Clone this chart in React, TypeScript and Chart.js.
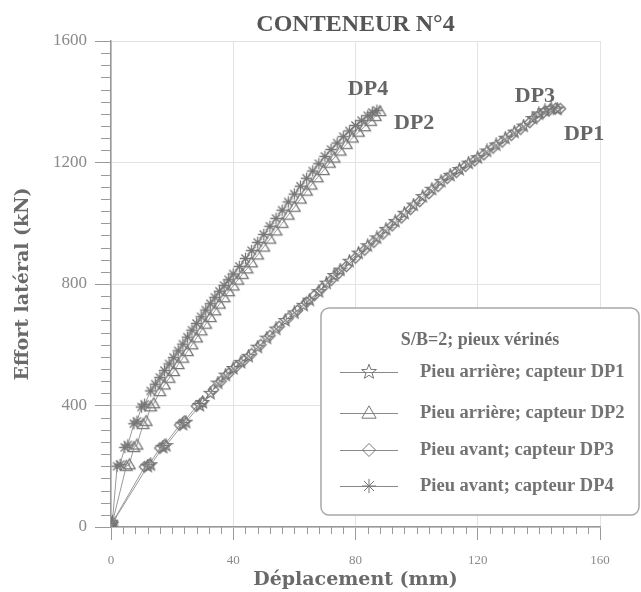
import React, { useEffect, useRef } from "react";
import { Chart, registerables } from "chart.js";

Chart.register(...registerables);

// ---------- data ----------
const chartTitle = "CONTENEUR N°4";
const xTitle = "Déplacement (mm)";
const yTitle = "Effort latéral (kN)";
const legendTitle = "S/B=2; pieux vérinés";
const seriesNames = [
  "Pieu arrière; capteur DP1",
  "Pieu arrière; capteur DP2",
  "Pieu avant; capteur DP3",
  "Pieu avant; capteur DP4",
];
const seriesMarkers = ["star5", "triangle", "diamond", "asterisk"];

const dp1X = [0, 0.3, 12, 13, 17, 18, 23.5, 24.5, 29, 30, 32.5, 35, 37.5, 40, 42.5, 45, 48, 51, 54, 57, 60, 63, 65, 68, 70.5, 73, 75, 78, 81, 84, 87, 90, 93, 96, 99, 102, 105, 108, 111, 114, 117, 120, 123, 126, 129, 132, 135, 138, 140, 142, 144, 146];
const dp1Y = [0, 10, 200, 205, 262, 268, 338, 345, 400, 410, 440, 474, 500, 522, 542, 562, 592, 622, 652, 680, 705, 730, 747, 775, 803, 828, 846, 875, 902, 926, 952, 980, 1006, 1033, 1060, 1088, 1112, 1138, 1158, 1177, 1198, 1216, 1238, 1258, 1280, 1300, 1320, 1345, 1360, 1370, 1377, 1376];

const dp2X = [0, 0.3, 5, 6, 7.5, 8.5, 10.5, 11.5, 13, 14, 16, 17.5, 19, 20.5, 22, 23.5, 25, 26.5, 28, 29.5, 31, 32.5, 34, 35.5, 37, 38.5, 40, 41.5, 43, 44.5, 46, 48, 50, 52, 54, 56, 58, 60, 62, 64, 65.5, 67.5, 69.5, 71.5, 73, 75, 77, 79, 81, 83, 85, 86.5, 88];
const dp2Y = [0, 8, 200, 205, 262, 270, 338, 348, 396, 406, 446, 468, 490, 512, 535, 556, 578, 600, 623, 646, 668, 690, 712, 734, 755, 775, 794, 813, 832, 850, 870, 896, 922, 948, 975, 1000, 1027, 1053, 1080, 1106, 1126, 1150, 1174, 1198, 1215, 1238, 1260, 1281, 1300, 1318, 1336, 1352, 1368];

const dp3X = [0, 0.5, 11, 12.5, 16, 17.5, 22.5, 24, 28, 30, 33.5, 36, 38.5, 41, 43.5, 46, 49, 52, 55, 58, 61, 64, 66.5, 69, 72, 74.5, 77, 80, 83, 86, 89, 92, 95, 98, 101, 104, 107, 110, 113, 116, 119, 122, 125, 128, 131, 134, 137, 139.5, 141.5, 143.5, 145.5, 147];
const dp3Y = [0, 15, 198, 206, 260, 270, 336, 348, 398, 412, 452, 480, 505, 528, 548, 570, 600, 630, 660, 688, 713, 740, 762, 785, 812, 835, 858, 886, 912, 938, 965, 992, 1018, 1046, 1072, 1098, 1122, 1148, 1168, 1188, 1206, 1226, 1248, 1268, 1290, 1310, 1332, 1350, 1364, 1373, 1378, 1377];

const dp4X = [0, 0, 0.5, 2, 3, 4.5, 5.5, 7.5, 8.5, 10, 11, 13, 14.5, 16, 17.5, 19, 20.5, 22, 23.5, 25, 26.5, 28, 29.5, 31, 32.5, 34, 35.5, 37, 38.5, 40, 42, 44, 46, 48, 50, 52, 54, 56, 58, 60, 62, 64, 66, 68, 70, 72, 74, 76, 78, 80, 82, 84, 85.5, 87];
const dp4Y = [0, 10, 22, 200, 206, 262, 270, 340, 348, 395, 404, 448, 470, 492, 515, 537, 558, 580, 602, 625, 648, 670, 692, 714, 735, 756, 776, 795, 814, 833, 858, 884, 910, 937, 963, 990, 1016, 1043, 1070, 1096, 1122, 1148, 1172, 1196, 1220, 1243, 1264, 1285, 1304, 1322, 1338, 1354, 1365, 1372];

// curve end labels (text, x mm, y kN)
const curveLabelText = ["DP1", "DP2", "DP3", "DP4"];
const curveLabelX = [154.8, 99.2, 138.7, 84.1];
const curveLabelY = [1294, 1330, 1419, 1442];

const xMin = 0, xMax = 160, xMajor = 40, xMinor = 4;
const yMin = 0, yMax = 1600, yMajor = 400, yMinor = 40;

// ---------- styling ----------
const MARK = "#767676";
const LINE = "#999999";
const SERIF = "'Liberation Serif', 'Times New Roman', serif";
const WIDE_SERIF = "'DejaVu Serif', serif";

function makeMarker(kind: string, size: number, scale: number, lw: number): HTMLCanvasElement {
  const c = document.createElement("canvas");
  c.width = size;
  c.height = size;
  const g = c.getContext("2d")!;
  g.strokeStyle = MARK;
  g.translate(size / 2, size / 2);
  g.scale(scale, scale);
  g.beginPath();
  if (kind === "star5") {
    for (let i = 0; i < 10; i++) {
      const r = i % 2 ? 2.5 : 6;
      const a = -Math.PI / 2 + (i * Math.PI) / 5;
      const px = Math.cos(a) * r, py = Math.sin(a) * r;
      if (i === 0) g.moveTo(px, py); else g.lineTo(px, py);
    }
    g.closePath();
  } else if (kind === "triangle") {
    g.moveTo(0, -5.5);
    g.lineTo(5.5, 4);
    g.lineTo(-5.5, 4);
    g.closePath();
  } else if (kind === "diamond") {
    g.moveTo(0, -5);
    g.lineTo(5, 0);
    g.lineTo(0, 5);
    g.lineTo(-5, 0);
    g.closePath();
  } else {
    for (let k = 0; k < 4; k++) {
      const a = (k * Math.PI) / 4;
      g.moveTo(Math.cos(a) * 5.5, Math.sin(a) * 5.5);
      g.lineTo(-Math.cos(a) * 5.5, -Math.sin(a) * 5.5);
    }
  }
  g.lineWidth = lw / scale;
  g.stroke();
  return c;
}

export default function App() {
  const ref = useRef<HTMLCanvasElement>(null);

  useEffect(() => {
    const xs = [dp1X, dp2X, dp3X, dp4X];
    const ys = [dp1Y, dp2Y, dp3Y, dp4Y];
    const pointImgs = seriesMarkers.map((m) => makeMarker(m, 15, 1.05, 1.3));
    const legendImgs = seriesMarkers.map((m) => makeMarker(m, 20, 1.3, 1));

    const overlay = {
      id: "overlay",
      beforeDatasetsDraw(chart: any) {
        const { ctx, chartArea, scales } = chart;
        const xs_ = scales.x, ys_ = scales.y;
        ctx.save();
        ctx.strokeStyle = "#9a9a9a";
        ctx.lineWidth = 1;
        ctx.beginPath();
        for (let v = xMin; v <= xMax; v += xMinor) {
          if (v % xMajor === 0) continue;
          const px = Math.round(xs_.getPixelForValue(v)) + 0.5;
          ctx.moveTo(px, chartArea.bottom);
          ctx.lineTo(px, chartArea.bottom + 7);
        }
        for (let v = yMin; v <= yMax; v += yMinor) {
          if (v % yMajor === 0) continue;
          const py = Math.round(ys_.getPixelForValue(v)) + 0.5;
          ctx.moveTo(chartArea.left - 10, py);
          ctx.lineTo(chartArea.left, py);
        }
        ctx.stroke();
        ctx.restore();
      },
      afterDraw(chart: any) {
        const { ctx, chartArea, scales } = chart;
        ctx.save();
        // title
        ctx.fillStyle = "#555";
        ctx.font = `bold 24px ${SERIF}`;
        ctx.textAlign = "center";
        ctx.textBaseline = "alphabetic";
        ctx.fillText(chartTitle, (chartArea.left + chartArea.right) / 2, 31);

        // curve labels
        ctx.fillStyle = "#666";
        ctx.font = `bold 22px ${SERIF}`;
        ctx.textBaseline = "middle";
        curveLabelText.forEach((t, i) => {
          ctx.fillText(t, scales.x.getPixelForValue(curveLabelX[i]), scales.y.getPixelForValue(curveLabelY[i]));
        });

        // legend box
        const bx = 321, by = 308, bw = 318, bh = 207, r = 8;
        ctx.beginPath();
        ctx.moveTo(bx + r, by);
        ctx.lineTo(bx + bw - r, by);
        ctx.arcTo(bx + bw, by, bx + bw, by + r, r);
        ctx.lineTo(bx + bw, by + bh - r);
        ctx.arcTo(bx + bw, by + bh, bx + bw - r, by + bh, r);
        ctx.lineTo(bx + r, by + bh);
        ctx.arcTo(bx, by + bh, bx, by + bh - r, r);
        ctx.lineTo(bx, by + r);
        ctx.arcTo(bx, by, bx + r, by, r);
        ctx.closePath();
        ctx.fillStyle = "#fff";
        ctx.fill();
        ctx.strokeStyle = "#a8a8a8";
        ctx.lineWidth = 1.5;
        ctx.stroke();

        ctx.fillStyle = "#6e6e6e";
        ctx.font = `bold 18px ${SERIF}`;
        ctx.textAlign = "center";
        ctx.textBaseline = "middle";
        ctx.fillText(legendTitle, bx + bw / 2, 340);

        const rows = [372, 413, 450, 486];
        ctx.textAlign = "left";
        ctx.font = `bold 18.5px ${SERIF}`;
        rows.forEach((ry, i) => {
          ctx.strokeStyle = "#8a8a8a";
          ctx.lineWidth = 1;
          ctx.beginPath();
          ctx.moveTo(340, ry + 0.5);
          ctx.lineTo(398, ry + 0.5);
          ctx.stroke();
          const img = legendImgs[i];
          ctx.drawImage(img, 369 - img.width / 2, ry - img.height / 2);
          ctx.fillStyle = "#737373";
          ctx.fillText(seriesNames[i], 420, ry);
        });
        ctx.restore();
      },
    };

    const chart = new Chart(ref.current!, {
      type: "scatter",
      data: {
        datasets: seriesNames.map((name, i) => ({
          label: name,
          data: xs[i].map((x, k) => ({ x, y: ys[i][k] })),
          showLine: true,
          borderColor: LINE,
          borderWidth: 1,
          pointStyle: pointImgs[i] as any,
          pointRadius: 6,
          pointHoverRadius: 6,
          fill: false,
        })),
      },
      options: {
        responsive: false,
        devicePixelRatio: 1,
        animation: false,
        layout: { padding: { left: 0, top: 41, right: 41, bottom: 0 } },
        plugins: { legend: { display: false }, tooltip: { enabled: false } },
        scales: {
          x: {
            type: "linear",
            min: xMin,
            max: xMax,
            ticks: {
              stepSize: xMajor,
              font: { family: SERIF, size: 13 },
              color: "#8a8a8a",
              padding: 13,
              maxRotation: 0,
              autoSkip: false,
              callback: (v: any) => String(v),
            },
            grid: { color: "#e3e3e3", tickColor: "#9a9a9a", tickLength: 13, lineWidth: 1 },
            border: { color: "#999", width: 1.5 },
            title: {
              display: true,
              text: xTitle,
              font: { family: WIDE_SERIF, size: 19, weight: "bold" },
              color: "#6a6a6a",
              padding: { top: 0, bottom: 1 },
            },
            afterFit(s: any) {
              s.height = 65;
            },
          },
          y: {
            type: "linear",
            min: yMin,
            max: yMax,
            ticks: {
              stepSize: yMajor,
              font: { family: SERIF, size: 17 },
              color: "#8a8a8a",
              padding: 8,
              callback: (v: any) => String(v),
            },
            grid: { color: "#e3e3e3", tickColor: "#9a9a9a", tickLength: 16, lineWidth: 1 },
            border: { color: "#999", width: 1.5 },
            title: {
              display: true,
              text: yTitle,
              font: { family: WIDE_SERIF, size: 19, weight: "bold" },
              color: "#6a6a6a",
              padding: { top: 12, bottom: 0 },
            },
            afterFit(s: any) {
              s.width = 111;
            },
          },
        },
      },
      plugins: [overlay],
    } as any);
    return () => chart.destroy();
  }, []);

  return (
    <div style={{ position: "absolute", left: 0, top: 0, width: 641, height: 592, background: "#fff" }}>
      <canvas ref={ref} width={641} height={592} style={{ display: "block", width: 641, height: 592 }} />
    </div>
  );
}
